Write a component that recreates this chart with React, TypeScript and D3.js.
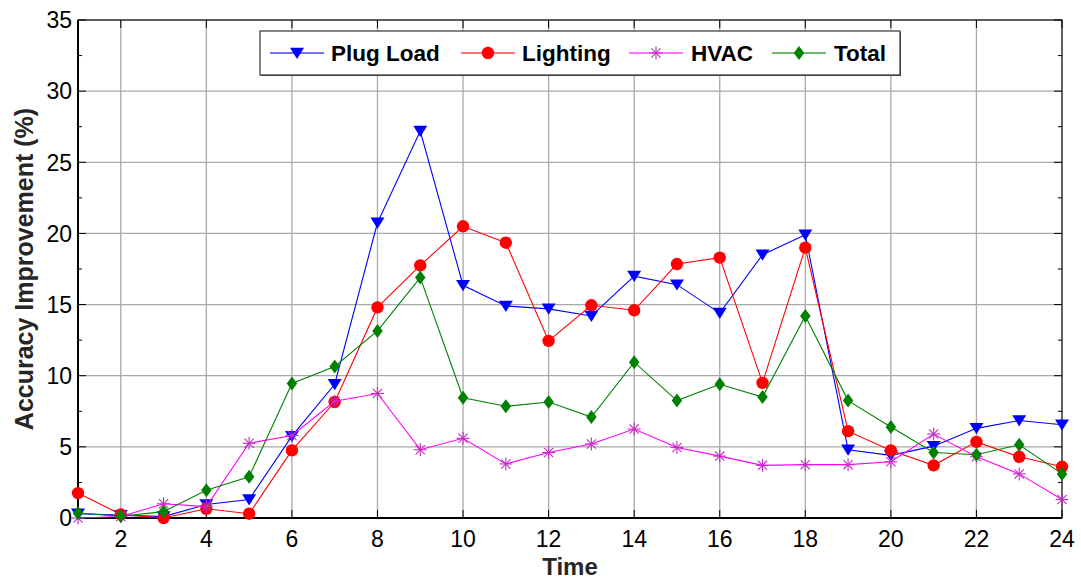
import React from "react";
import * as d3 from "d3";

const hours = [1,2,3,4,5,6,7,8,9,10,11,12,13,14,15,16,17,18,19,20,21,22,23,24];
const plugLoad = [0.3,0.2,0.1,0.95,1.3,5.75,9.4,20.75,27.2,16.35,14.9,14.7,14.2,17.0,16.4,14.4,18.5,19.9,4.8,4.4,5.05,6.3,6.85,6.55];
const lighting = [1.75,0.25,0.0,0.65,0.3,4.75,8.15,14.8,17.75,20.5,19.35,12.45,14.95,14.6,17.85,18.3,9.5,19.0,6.1,4.75,3.7,5.35,4.3,3.6];
const hvac = [0.0,0.1,1.0,0.8,5.25,5.8,8.2,8.75,4.8,5.6,3.8,4.6,5.2,6.25,4.95,4.35,3.7,3.75,3.75,3.95,5.9,4.3,3.1,1.3];
const total = [0.35,0.12,0.45,1.95,2.9,9.45,10.65,13.15,16.9,8.45,7.85,8.15,7.1,10.95,8.25,9.4,8.5,14.2,8.25,6.4,4.6,4.45,5.15,3.1];
const xTicks = [2,4,6,8,10,12,14,16,18,20,22,24];
const yTicks = [0,5,10,15,20,25,30,35];
const yMinor = [2.5,7.5,12.5,17.5,22.5,27.5,32.5];

const seriesNames = ["Plug Load","Lighting","HVAC","Total"];
const seriesColors = ["#0000ff","#ff0000","#ff00ff","#008000"];
const markerColors = ["#0000ff","#ff0000","#c030c0","#008000"];
const seriesData = [plugLoad, lighting, hvac, total];

const W = 1081, H = 581;
const L = 78, R = 1062, T = 20, B = 518;

function Marker({ kind, cx, cy, color }: { kind: number; cx: number; cy: number; color: string }) {
  if (kind === 0) {
    const s = 7;
    return <path d={`M${cx - s},${cy - s * 0.75} L${cx + s},${cy - s * 0.75} L${cx},${cy + s * 0.85} Z`} fill={color} />;
  }
  if (kind === 1) return <circle cx={cx} cy={cy} r={6.2} fill={color} />;
  if (kind === 2) {
    const s = 6.5;
    const lines = [];
    for (let i = 0; i < 4; i++) {
      const a = (i * Math.PI) / 4;
      lines.push(
        <line key={i} x1={cx - s * Math.cos(a)} y1={cy - s * Math.sin(a)} x2={cx + s * Math.cos(a)} y2={cy + s * Math.sin(a)} stroke={color} strokeWidth={1.1} />
      );
    }
    return <g>{lines}</g>;
  }
  const s = 7;
  return <path d={`M${cx},${cy - s} L${cx + s * 0.75},${cy} L${cx},${cy + s} L${cx - s * 0.75},${cy} Z`} fill={color} />;
}

export default function App() {
  const x = d3.scaleLinear().domain([1, 24]).range([L, R]);
  const y = d3.scaleLinear().domain([0, 35]).range([B, T]);
  const line = d3.line<number>().x((_, i) => x(hours[i])).y((d) => y(d));

  const legendX = 260, legendY = 31, legendW = 640, legendH = 44;
  const legendItems = [
    { lx: 270, tx: 331 },
    { lx: 461, tx: 522 },
    { lx: 629, tx: 691 },
    { lx: 772, tx: 834 },
  ];
  const ly = 53;

  return (
    <svg width={W} height={H} style={{ position: "absolute", left: 0, top: 0, fontFamily: "Arial, 'Liberation Sans', sans-serif" }}>
      <rect x={0} y={0} width={W} height={H} fill="#fff" />
      {/* grid */}
      {xTicks.map((t) => (
        <line key={"gx" + t} x1={x(t)} x2={x(t)} y1={T} y2={B} stroke="#a8a8a8" strokeWidth={1.3} />
      ))}
      {yTicks.map((t) => (
        <line key={"gy" + t} x1={L} x2={R} y1={y(t)} y2={y(t)} stroke="#a8a8a8" strokeWidth={1.3} />
      ))}
      {/* axes box */}
      <rect x={L} y={T} width={R - L} height={B - T} fill="none" stroke="#000" strokeWidth={1} />
      <line x1={L} x2={L} y1={T} y2={B} stroke="#000" strokeWidth={2} />
      <line x1={L} x2={R} y1={B} y2={B} stroke="#000" strokeWidth={2} />
      {/* ticks */}
      {yTicks.map((t) => (
        <g key={"yt" + t}>
          <line x1={L} x2={L + 8} y1={y(t)} y2={y(t)} stroke="#000" />
          <line x1={R} x2={R - 8} y1={y(t)} y2={y(t)} stroke="#000" />
          <text x={L - 6} y={y(t)} dy="0.36em" textAnchor="end" fontSize={23} fill="#000">{t}</text>
        </g>
      ))}
      {yMinor.map((t) => (
        <g key={"ym" + t}>
          <line x1={L} x2={L + 4} y1={y(t)} y2={y(t)} stroke="#000" />
          <line x1={R} x2={R - 4} y1={y(t)} y2={y(t)} stroke="#000" />
        </g>
      ))}
      {xTicks.map((t) => (
        <g key={"xt" + t}>
          <line x1={x(t)} x2={x(t)} y1={B} y2={B - 8} stroke="#000" />
          <line x1={x(t)} x2={x(t)} y1={T} y2={T + 8} stroke="#000" />
          <text x={x(t)} y={B + 29} textAnchor="middle" fontSize={23} fill="#000">{t}</text>
        </g>
      ))}
      {/* series */}
      {seriesData.map((data, si) => (
        <g key={"s" + si}>
          <path d={line(data) || ""} fill="none" stroke={seriesColors[si]} strokeWidth={1.1} />
          {data.map((v, i) => (
            <Marker key={i} kind={si} cx={x(hours[i])} cy={y(v)} color={markerColors[si]} />
          ))}
        </g>
      ))}
      {/* legend */}
      <rect x={legendX + 1} y={legendY + 1} width={legendW} height={legendH} fill="#555" />
      <rect x={legendX} y={legendY} width={legendW} height={legendH} fill="#fff" stroke="#333" strokeWidth={1.2} />
      {legendItems.map((it, i) => (
        <g key={"lg" + i}>
          <line x1={it.lx} x2={it.lx + 54} y1={ly} y2={ly} stroke={seriesColors[i]} strokeOpacity={0.55} strokeWidth={2} />
          <Marker kind={i} cx={it.lx + 27} cy={ly} color={markerColors[i]} />
          <text x={it.tx} y={ly} dy="0.36em" fontSize={22.5} fontWeight="bold" fill="#000">{seriesNames[i]}</text>
        </g>
      ))}
      {/* axis labels */}
      <text x={(L + R) / 2} y={575} textAnchor="middle" fontSize={24} fontWeight="bold" fill="#262626">Time</text>
      <text transform={`translate(33, ${(T + B) / 2}) rotate(-90)`} textAnchor="middle" fontSize={25} fontWeight="bold" fill="#262626">Accuracy Improvement (%)</text>
    </svg>
  );
}
